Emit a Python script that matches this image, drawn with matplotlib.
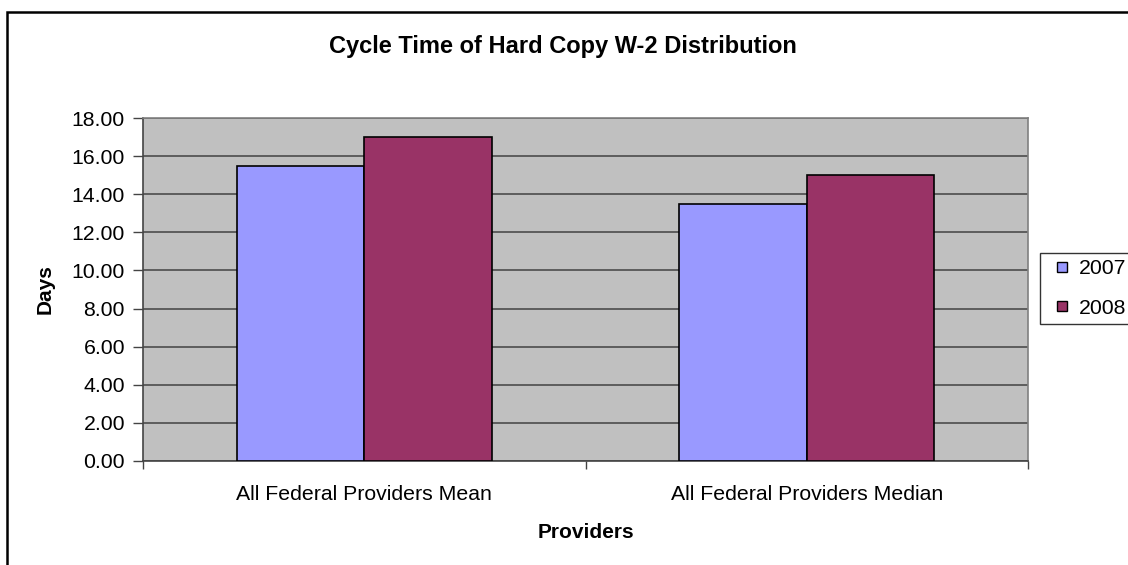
import matplotlib
matplotlib.use("Agg")
import matplotlib.pyplot as plt
from matplotlib.lines import Line2D
import numpy as np

plt.rcParams['font.family'] = ['Liberation Sans', 'DejaVu Sans']

categories = ["All Federal Providers Mean", "All Federal Providers Median"]
series_names = ["2007", "2008"]
values_2007 = [15.5, 13.5]
values_2008 = [17.0, 15.0]
yticks = [0, 2, 4, 6, 8, 10, 12, 14, 16, 18]
colors = ['#9999FF', '#993366']

W, H = 1128, 565
fig = plt.figure(figsize=(W / 100, H / 100), dpi=100)
fig.patch.set_facecolor('white')
# outer chart border (extends beyond the right and bottom edges of the picture)
x0, ytop = 7 / W, 1 - 12 / H
fig.add_artist(plt.Rectangle((x0, -0.05), 1.1, ytop + 0.05, transform=fig.transFigure,
                             fill=False, edgecolor='black', linewidth=1.8, clip_on=False))

ax = fig.add_axes([143 / W, 1 - 461 / H, (1028 - 143) / W, (461 - 118) / H])
ax.set_facecolor('#C0C0C0')

x = np.arange(len(categories))
w = 0.288
ax.bar(x - w / 2, values_2007, width=w, color=colors[0], edgecolor='black', linewidth=1.2,
       label=series_names[0], zorder=3)
ax.bar(x + w / 2, values_2008, width=w, color=colors[1], edgecolor='black', linewidth=1.2,
       label=series_names[1], zorder=3)

ax.set_xlim(-0.5, 1.5)
ax.set_ylim(0, 18)
ax.set_yticks(yticks)
ax.set_yticklabels([f"{v:.2f}" for v in yticks], fontsize=15.3)
ax.yaxis.grid(True, color='#555555', linewidth=1.3, zorder=0)
ax.set_axisbelow(True)

ax.set_xticks(x)
ax.set_xticklabels(categories, fontsize=15.3)
ax.tick_params(axis='x', length=0, pad=17)
ax.set_xticks([-0.5, 0.5, 1.5], minor=True)
ax.tick_params(axis='x', which='minor', length=6, width=1, color='#444444')
ax.tick_params(axis='y', length=7, width=1, color='#444444', pad=6)

for s in ['top', 'right']:
    ax.spines[s].set_color('#808080')
    ax.spines[s].set_linewidth(1.2)
for s in ['left', 'bottom']:
    ax.spines[s].set_color('#444444')
    ax.spines[s].set_linewidth(1.2)

ax.set_ylabel("Days", fontsize=15, fontweight='bold', labelpad=12)
ax.set_xlabel("Providers", fontsize=15, fontweight='bold', labelpad=14)
fig.text(563 / W, 1 - 47 / H, "Cycle Time of Hard Copy W-2 Distribution", ha='center', va='center',
         fontsize=17, fontweight='bold')

handles = [Line2D([], [], linestyle='none', marker='s', markersize=7, markerfacecolor=c,
                  markeredgecolor='black', markeredgewidth=1.0) for c in colors]
leg = fig.legend(handles=handles, labels=series_names,
                 loc='upper left', bbox_to_anchor=(1040 / W, 1 - 253 / H), frameon=True, fancybox=False,
                 edgecolor='black', fontsize=15.3, handlelength=1.45,
                 handletextpad=0.1, borderpad=0.3, labelspacing=0.95, borderaxespad=0)
leg.get_frame().set_linewidth(1.0)

fig.savefig("out.png", dpi=100)
